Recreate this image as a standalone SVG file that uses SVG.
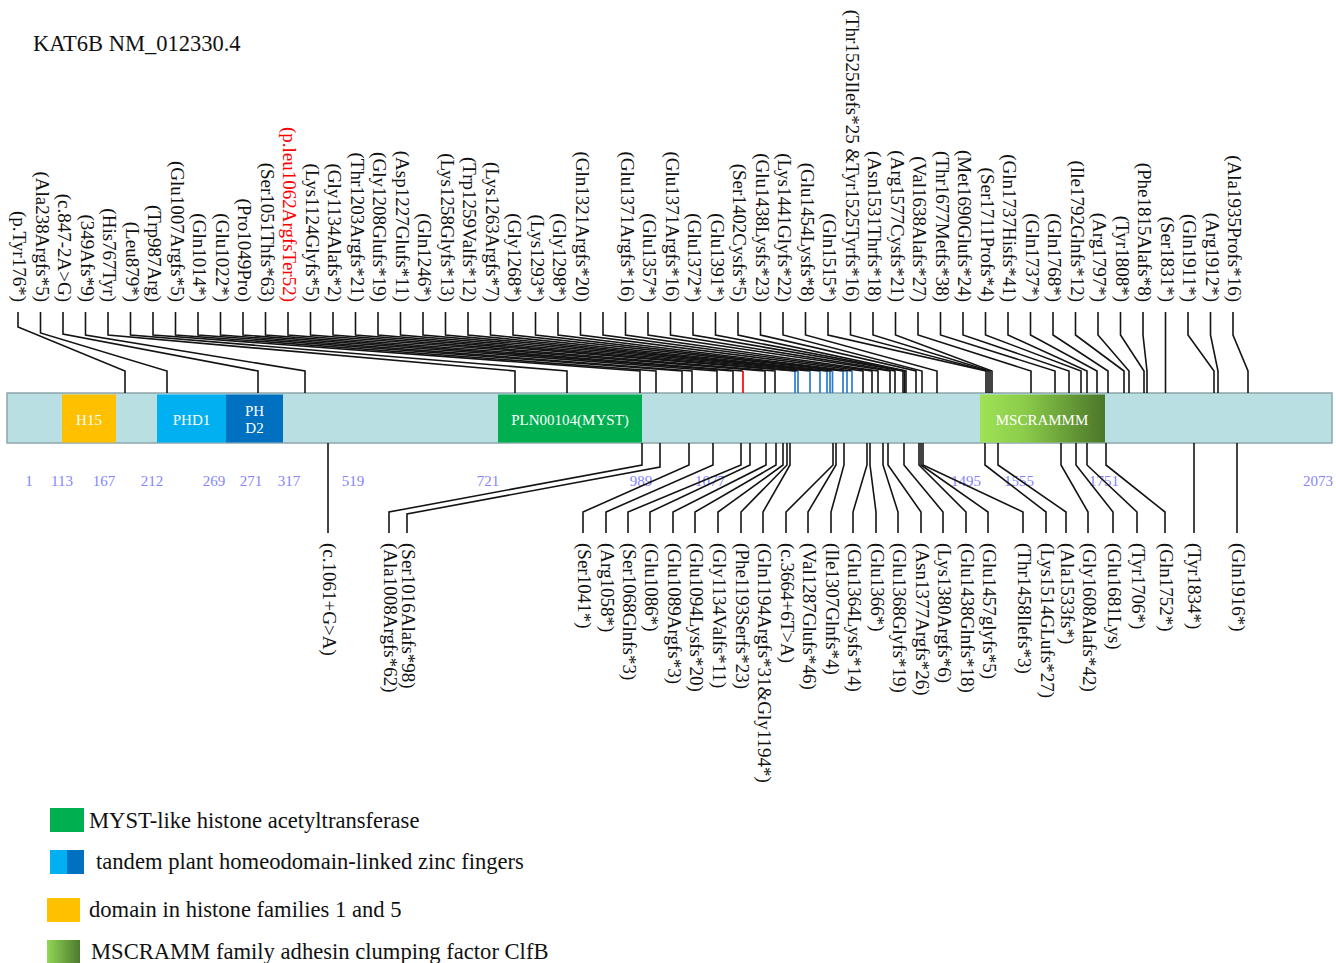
<svg xmlns="http://www.w3.org/2000/svg" width="1336" height="963" viewBox="0 0 1336 963">
<defs>
<linearGradient id="gMs" x1="0" y1="0" x2="1" y2="0">
<stop offset="0" stop-color="#9fe256"/><stop offset="0.35" stop-color="#8ccc4a"/><stop offset="1" stop-color="#4a7629"/>
</linearGradient>
<linearGradient id="gLeg" x1="0" y1="0" x2="1" y2="0">
<stop offset="0" stop-color="#92d656"/><stop offset="1" stop-color="#4c7a2c"/>
</linearGradient>
<style>
.t{font-family:"Liberation Serif","Times New Roman",serif;fill:#111}
.lbl{font-family:"Liberation Serif","Times New Roman",serif;font-size:19px;fill:#111}
.top{text-anchor:end}
.red{fill:#ff0000}
.pos{font-family:"Liberation Serif","Times New Roman",serif;font-size:15px;fill:#8484ff;text-anchor:middle}
.dom{font-family:"Liberation Serif","Times New Roman",serif;font-size:15px;fill:#ffffff;text-anchor:middle}
.leg{font-family:"Liberation Serif","Times New Roman",serif;font-size:22.6px;fill:#111}
.ln{fill:none;stroke:#141414;stroke-width:1.6;stroke-linejoin:miter}
.bl{fill:none;stroke:#2a7cd2;stroke-width:1.7}
.rd{fill:none;stroke:#ff0000;stroke-width:1.7}
</style>
</defs>
<rect width="1336" height="963" fill="#ffffff"/>
<text class="t" x="33" y="51" font-size="22.5">KAT6B NM_012330.4</text>

<g id="protein">
<rect x="7" y="393" width="1325" height="50" fill="#b9dfe3" stroke="#8ea7ab" stroke-width="1.5"/>
</g>
<g id="H15"><rect x="62" y="394.5" width="54" height="48" fill="#ffc000"/><text class="dom" x="89" y="425">H15</text></g>
<g id="PHD1"><rect x="157" y="394.5" width="69" height="48" fill="#00b0f0"/><text class="dom" x="191.5" y="425">PHD1</text></g>
<g id="PHD2"><rect x="226" y="394.5" width="57" height="48" fill="#0070c0"/><text class="dom" x="254.5" y="416">PH</text><text class="dom" x="254.5" y="433">D2</text></g>
<g id="MYST"><rect x="498" y="394.5" width="144" height="48" fill="#00b050"/><text class="dom" x="570" y="425">PLN00104(MYST)</text></g>
<g id="MSCRAMM"><rect x="980" y="394.5" width="125" height="48" fill="url(#gMs)"/><text class="dom" x="1042" y="425">MSCRAMMM</text></g>

<g id="positions">
<text class="pos" x="29" y="486">1</text>
<text class="pos" x="62" y="486">113</text>
<text class="pos" x="104" y="486">167</text>
<text class="pos" x="152" y="486">212</text>
<text class="pos" x="214" y="486">269</text>
<text class="pos" x="251" y="486">271</text>
<text class="pos" x="289" y="486">317</text>
<text class="pos" x="353" y="486">519</text>
<text class="pos" x="488" y="486">721</text>
<text class="pos" x="641" y="486">989</text>
<text class="pos" x="710" y="486">1077</text>
<text class="pos" x="966" y="486">1495</text>
<text class="pos" x="1019" y="486">1555</text>
<text class="pos" x="1104" y="486">1751</text>
<text class="pos" x="1318" y="486">2073</text>
</g>

<g id="connectors">
<path class="ln" d="M18 312V327L125 371V393"/>
<path class="ln" d="M40.5 312V333L167 371V393"/>
<path class="ln" d="M63 312V334L258 371V393"/>
<path class="ln" d="M85.5 312V335L305 371V393"/>
<path class="ln" d="M108 312V335L515 371V393"/>
<path class="ln" d="M130.5 312V335L567 371V393"/>
<path class="ln" d="M153 312V335L640 371V393"/>
<path class="ln" d="M175.5 312V335L656 371V393"/>
<path class="ln" d="M198 312V335L682 371V393"/>
<path class="ln" d="M220.5 312V335L692 371V393"/>
<path class="ln" d="M243 312V335L717 371V393"/>
<path class="ln" d="M265.5 312V335L733 371V393"/>
<path class="ln" d="M288 312V335L743 371"/><path class="rd" d="M743 371V393"/>
<path class="ln" d="M310.5 312V335L765 371V393"/>
<path class="ln" d="M333 312V335L775 371V393"/>
<path class="ln" d="M355.5 312V335L795 371"/><path class="bl" d="M795 371V393"/>
<path class="ln" d="M378 312V335L798 371"/><path class="bl" d="M798 371V393"/>
<path class="ln" d="M400.5 312V335L810 371"/><path class="bl" d="M810 371V393"/>
<path class="ln" d="M423 312V335L820 371"/><path class="bl" d="M820 371V393"/>
<path class="ln" d="M445.5 312V335L827 371"/><path class="bl" d="M827 371V393"/>
<path class="ln" d="M468 312V335L830 371"/><path class="bl" d="M830 371V393"/>
<path class="ln" d="M490.5 312V335L832.5 371"/><path class="bl" d="M832.5 371V393"/>
<path class="ln" d="M513 312V335L843 371"/><path class="bl" d="M843 371V393"/>
<path class="ln" d="M535.5 312V335L847 371"/><path class="bl" d="M847 371V393"/>
<path class="ln" d="M558 312V335L852 371"/><path class="bl" d="M852 371V393"/>
<path class="ln" d="M580.5 312V335L863 371V393"/>
<path class="ln" d="M603 312V335L872 371V393"/>
<path class="ln" d="M625.5 312V335L878 371V393"/>
<path class="ln" d="M648 312V335L890 371V393"/>
<path class="ln" d="M670.5 312V335L895 371V393"/>
<path class="ln" d="M693 312V335L903 371V393"/>
<path class="ln" d="M715.5 312V335L904.5 371V393"/>
<path class="ln" d="M738 312V335L906 371V393"/>
<path class="ln" d="M760.5 312V335L916 371V393"/>
<path class="ln" d="M783 312V335L922 371V393"/>
<path class="ln" d="M805.5 312V335L937 371V393"/>
<path class="ln" d="M828 312V335L986 371V393"/>
<path class="ln" d="M850.5 312V335L988 371V393"/>
<path class="ln" d="M873 312V335L990 371V393"/>
<path class="ln" d="M895.5 312V335L992 371V393"/>
<path class="ln" d="M918 312V335L1031 371V393"/>
<path class="ln" d="M940.5 312V335L1055 371V393"/>
<path class="ln" d="M963 312V335L1069 371V393"/>
<path class="ln" d="M985.5 312V335L1081 371V393"/>
<path class="ln" d="M1008 312V335L1087 371V393"/>
<path class="ln" d="M1030.5 312V335L1097 371V393"/>
<path class="ln" d="M1053 312V335L1108 371V393"/>
<path class="ln" d="M1075.5 312V335L1124 371V393"/>
<path class="ln" d="M1098 312V335L1129 371V393"/>
<path class="ln" d="M1120.5 312V335L1144 371V393"/>
<path class="ln" d="M1143 312V335L1147 371V393"/>
<path class="ln" d="M1165.5 312V393"/>
<path class="ln" d="M1188 312V335L1214 371V393"/>
<path class="ln" d="M1210.5 312V335L1218 371V393"/>
<path class="ln" d="M1233 312V335L1248 371V393"/>

<path class="ln" d="M328 443V533"/>
<path class="ln" d="M642 443V465L389 512V533"/>
<path class="ln" d="M660 443V467L407 514V533"/>
<path class="ln" d="M689 443V465L583 512V533"/>
<path class="ln" d="M713 443V465L606 512V533"/>
<path class="ln" d="M741 443V465L628 512V533"/>
<path class="ln" d="M750 443V465L650 512V533"/>
<path class="ln" d="M766 443V465L673 512V533"/>
<path class="ln" d="M776 443V465L695 512V533"/>
<path class="ln" d="M783 443V465L718 512V533"/>
<path class="ln" d="M787 443V465L741 512V533"/>
<path class="ln" d="M790 443V465L763 512V533"/>
<path class="ln" d="M833 443V465L786 512V533"/>
<path class="ln" d="M836 443V465L808 512V533"/>
<path class="ln" d="M844 443V465L831 512V533"/>
<path class="ln" d="M867 443V465L853 512V533"/>
<path class="ln" d="M870 443V465L876 512V533"/>
<path class="ln" d="M883 443V465L898 512V533"/>
<path class="ln" d="M888 443V465L921 512V533"/>
<path class="ln" d="M904 443V465L943 512V533"/>
<path class="ln" d="M919 443V465L966 512V533"/>
<path class="ln" d="M921 443V465L988 512V533"/>
<path class="ln" d="M923 443V465L1023 512V533"/>
<path class="ln" d="M985 443V465L1046 512V533"/>
<path class="ln" d="M998 443V465L1066 512V533"/>
<path class="ln" d="M1061 443V465L1088 512V533"/>
<path class="ln" d="M1076 443V465L1113 512V533"/>
<path class="ln" d="M1087 443V465L1137 512V533"/>
<path class="ln" d="M1106 443V465L1165 512V533"/>
<path class="ln" d="M1194 443V533"/>
<path class="ln" d="M1237 443V533"/>
</g>

<g id="top-labels">
<g id="m-t0"><text class="lbl top" transform="translate(13,302) rotate(90)">(p.Tyr176*)</text></g>
<g id="m-t1"><text class="lbl top" transform="translate(35.5,302) rotate(90)">(Ala238Argfs*5)</text></g>
<g id="m-t2"><text class="lbl top" transform="translate(58,302) rotate(90)">(c.847-2A&gt;G)</text></g>
<g id="m-t3"><text class="lbl top" transform="translate(80.5,302) rotate(90)">(349Afs*9)</text></g>
<g id="m-t4"><text class="lbl top" transform="translate(103,302) rotate(90)">(His767Tyr)</text></g>
<g id="m-t5"><text class="lbl top" transform="translate(125.5,302) rotate(90)">(Leu879*)</text></g>
<g id="m-t6"><text class="lbl top" transform="translate(148,302) rotate(90)">(Trp987Arg)</text></g>
<g id="m-t7"><text class="lbl top" transform="translate(170.5,302) rotate(90)">(Glu1007Argfs*5)</text></g>
<g id="m-t8"><text class="lbl top" transform="translate(193,302) rotate(90)">(Gln1014*)</text></g>
<g id="m-t9"><text class="lbl top" transform="translate(215.5,302) rotate(90)">(Glu1022*)</text></g>
<g id="m-t10"><text class="lbl top" transform="translate(238,302) rotate(90)">(Pro1049Pro)</text></g>
<g id="m-t11"><text class="lbl top" transform="translate(260.5,302) rotate(90)">(Ser1051Thfs*63)</text></g>
<g id="m-t12"><text class="lbl top red" transform="translate(283,302) rotate(90)">(p.leu1062ArgfsTer52)</text></g>
<g id="m-t13"><text class="lbl top" transform="translate(305.5,302) rotate(90)">(Lys1124Glyfs*5)</text></g>
<g id="m-t14"><text class="lbl top" transform="translate(328,302) rotate(90)">(Gly1134Alafs*2)</text></g>
<g id="m-t15"><text class="lbl top" transform="translate(350.5,302) rotate(90)">(Thr1203Argfs*21)</text></g>
<g id="m-t16"><text class="lbl top" transform="translate(373,302) rotate(90)">(Gly1208Glufs*19)</text></g>
<g id="m-t17"><text class="lbl top" transform="translate(395.5,302) rotate(90)">(Asp1227Glufs*11)</text></g>
<g id="m-t18"><text class="lbl top" transform="translate(418,302) rotate(90)">(Gln1246*)</text></g>
<g id="m-t19"><text class="lbl top" transform="translate(440.5,302) rotate(90)">(Lys1258Glyfs*13)</text></g>
<g id="m-t20"><text class="lbl top" transform="translate(463,302) rotate(90)">(Trp1259Valfs*12)</text></g>
<g id="m-t21"><text class="lbl top" transform="translate(485.5,302) rotate(90)">(Lys1263Argfs*7)</text></g>
<g id="m-t22"><text class="lbl top" transform="translate(508,302) rotate(90)">(Gly1268*)</text></g>
<g id="m-t23"><text class="lbl top" transform="translate(530.5,302) rotate(90)">(Lys1293*)</text></g>
<g id="m-t24"><text class="lbl top" transform="translate(553,302) rotate(90)">(Gly1298*)</text></g>
<g id="m-t25"><text class="lbl top" transform="translate(575.5,302) rotate(90)">(Gln1321Argfs*20)</text></g>
<g id="m-t27"><text class="lbl top" transform="translate(620.5,302) rotate(90)">(Glu1371Argfs*16)</text></g>
<g id="m-t28"><text class="lbl top" transform="translate(643,302) rotate(90)">(Glu1357*)</text></g>
<g id="m-t29"><text class="lbl top" transform="translate(665.5,302) rotate(90)">(Glu1371Argfs*16)</text></g>
<g id="m-t30"><text class="lbl top" transform="translate(688,302) rotate(90)">(Glu1372*)</text></g>
<g id="m-t31"><text class="lbl top" transform="translate(710.5,302) rotate(90)">(Glu1391*)</text></g>
<g id="m-t32"><text class="lbl top" transform="translate(733,302) rotate(90)">(Ser1402Cysfs*5)</text></g>
<g id="m-t33"><text class="lbl top" transform="translate(755.5,302) rotate(90)">(Glu1438Lysfs*23)</text></g>
<g id="m-t34"><text class="lbl top" transform="translate(778,302) rotate(90)">(Lys1441Glyfs*22)</text></g>
<g id="m-t35"><text class="lbl top" transform="translate(800.5,302) rotate(90)">(Glu1454Lysfs*8)</text></g>
<g id="m-t36"><text class="lbl top" transform="translate(823,302) rotate(90)">(Gln1515*)</text></g>
<g id="m-t37"><text class="lbl top" transform="translate(845.5,302) rotate(90)">(Thr1525Ilefs*25 &amp;Tyr1525Tyrfs*16)</text></g>
<g id="m-t38"><text class="lbl top" transform="translate(868,302) rotate(90)">(Asn1531Thrfs*18)</text></g>
<g id="m-t39"><text class="lbl top" transform="translate(890.5,302) rotate(90)">(Arg1577Cysfs*21)</text></g>
<g id="m-t40"><text class="lbl top" transform="translate(913,302) rotate(90)">(Val1638Alafs*27)</text></g>
<g id="m-t41"><text class="lbl top" transform="translate(935.5,302) rotate(90)">(Thr1677Metfs*38)</text></g>
<g id="m-t42"><text class="lbl top" transform="translate(958,302) rotate(90)">(Met1690Glufs*24)</text></g>
<g id="m-t43"><text class="lbl top" transform="translate(980.5,302) rotate(90)">(Ser1711Profs*4)</text></g>
<g id="m-t44"><text class="lbl top" transform="translate(1003,302) rotate(90)">(Gln1737Hisfs*41)</text></g>
<g id="m-t45"><text class="lbl top" transform="translate(1025.5,302) rotate(90)">(Gln1737*)</text></g>
<g id="m-t46"><text class="lbl top" transform="translate(1048,302) rotate(90)">(Gln1768*)</text></g>
<g id="m-t47"><text class="lbl top" transform="translate(1070.5,302) rotate(90)">(Ile1792Glnfs*12)</text></g>
<g id="m-t48"><text class="lbl top" transform="translate(1093,302) rotate(90)">(Arg1797*)</text></g>
<g id="m-t49"><text class="lbl top" transform="translate(1115.5,302) rotate(90)">(Tyr1808*)</text></g>
<g id="m-t50"><text class="lbl top" transform="translate(1138,302) rotate(90)">(Phe1815Alafs*8)</text></g>
<g id="m-t51"><text class="lbl top" transform="translate(1160.5,302) rotate(90)">(Ser1831*)</text></g>
<g id="m-t52"><text class="lbl top" transform="translate(1183,302) rotate(90)">(Gln1911*)</text></g>
<g id="m-t53"><text class="lbl top" transform="translate(1205.5,302) rotate(90)">(Arg1912*)</text></g>
<g id="m-t54"><text class="lbl top" transform="translate(1228,302) rotate(90)">(Ala1935Profs*16)</text></g>
</g>

<g id="bottom-labels">
<g id="m-b0"><text class="lbl" transform="translate(323,543) rotate(90)">(c.1061+G&gt;A)</text></g>
<g id="m-b1"><text class="lbl" transform="translate(384,543) rotate(90)">(Ala1008Argfs*62)</text></g>
<g id="m-b2"><text class="lbl" transform="translate(402,543) rotate(90)">(Ser1016Alafs*98)</text></g>
<g id="m-b3"><text class="lbl" transform="translate(578,543) rotate(90)">(Ser1041*)</text></g>
<g id="m-b4"><text class="lbl" transform="translate(601,543) rotate(90)">(Arg1058*)</text></g>
<g id="m-b5"><text class="lbl" transform="translate(623,543) rotate(90)">(Ser1068Glnfs*3)</text></g>
<g id="m-b6"><text class="lbl" transform="translate(645,543) rotate(90)">(Glu1086*)</text></g>
<g id="m-b7"><text class="lbl" transform="translate(668,543) rotate(90)">(Glu1089Argfs*3)</text></g>
<g id="m-b8"><text class="lbl" transform="translate(690,543) rotate(90)">(Glu1094Lysfs*20)</text></g>
<g id="m-b9"><text class="lbl" transform="translate(713,543) rotate(90)">(Gly1134Valfs*11)</text></g>
<g id="m-b10"><text class="lbl" transform="translate(736,543) rotate(90)">(Phe1193Serfs*23)</text></g>
<g id="m-b11"><text class="lbl" transform="translate(758,543) rotate(90)">(Gln1194Argfs*31&amp;Gly1194*)</text></g>
<g id="m-b12"><text class="lbl" transform="translate(781,543) rotate(90)">(c.3664+6T&gt;A)</text></g>
<g id="m-b13"><text class="lbl" transform="translate(803,543) rotate(90)">(Val1287Glufs*46)</text></g>
<g id="m-b14"><text class="lbl" transform="translate(826,543) rotate(90)">(Ile1307Glnfs*4)</text></g>
<g id="m-b15"><text class="lbl" transform="translate(848,543) rotate(90)">(Glu1364Lysfs*14)</text></g>
<g id="m-b16"><text class="lbl" transform="translate(871,543) rotate(90)">(Glu1366*)</text></g>
<g id="m-b17"><text class="lbl" transform="translate(893,543) rotate(90)">(Glu1368Glyfs*19)</text></g>
<g id="m-b18"><text class="lbl" transform="translate(916,543) rotate(90)">(Asn1377Argfs*26)</text></g>
<g id="m-b19"><text class="lbl" transform="translate(938,543) rotate(90)">(Lys1380Argfs*6)</text></g>
<g id="m-b20"><text class="lbl" transform="translate(961,543) rotate(90)">(Glu1438Glnfs*18)</text></g>
<g id="m-b21"><text class="lbl" transform="translate(983,543) rotate(90)">(Glu1457glyfs*5)</text></g>
<g id="m-b22"><text class="lbl" transform="translate(1018,543) rotate(90)">(Thr1458Ilefs*3)</text></g>
<g id="m-b23"><text class="lbl" transform="translate(1041,543) rotate(90)">(Lys1514GLufs*27)</text></g>
<g id="m-b24"><text class="lbl" transform="translate(1061,543) rotate(90)">(Ala1533fs*)</text></g>
<g id="m-b25"><text class="lbl" transform="translate(1083,543) rotate(90)">(Gly1608Alafs*42)</text></g>
<g id="m-b26"><text class="lbl" transform="translate(1108,543) rotate(90)">(Glu1681Lys)</text></g>
<g id="m-b27"><text class="lbl" transform="translate(1132,543) rotate(90)">(Tyr1706*)</text></g>
<g id="m-b28"><text class="lbl" transform="translate(1160,543) rotate(90)">(Gln1752*)</text></g>
<g id="m-b29"><text class="lbl" transform="translate(1188,543) rotate(90)">(Tyr1834*)</text></g>
<g id="m-b30"><text class="lbl" transform="translate(1232,543) rotate(90)">(Gln1916*)</text></g>
</g>

<g id="legend">
<g id="leg-myst"><rect x="50" y="808" width="34" height="24" fill="#00b050"/><text class="leg" x="89" y="828">MYST-like histone acetyltransferase</text></g>
<g id="leg-phd"><rect x="50" y="850" width="17" height="24" fill="#00b0f0"/><rect x="67" y="850" width="17" height="24" fill="#0070c0"/><text class="leg" x="96" y="869">tandem plant homeodomain-linked zinc fingers</text></g>
<g id="leg-h15"><rect x="47" y="898" width="33" height="24" fill="#ffc000"/><text class="leg" x="89" y="917">domain in histone families 1 and 5</text></g>
<g id="leg-ms"><rect x="47" y="940" width="33" height="23" fill="url(#gLeg)"/><text class="leg" x="91" y="959">MSCRAMM family adhesin clumping factor ClfB</text></g>
</g>
</svg>
